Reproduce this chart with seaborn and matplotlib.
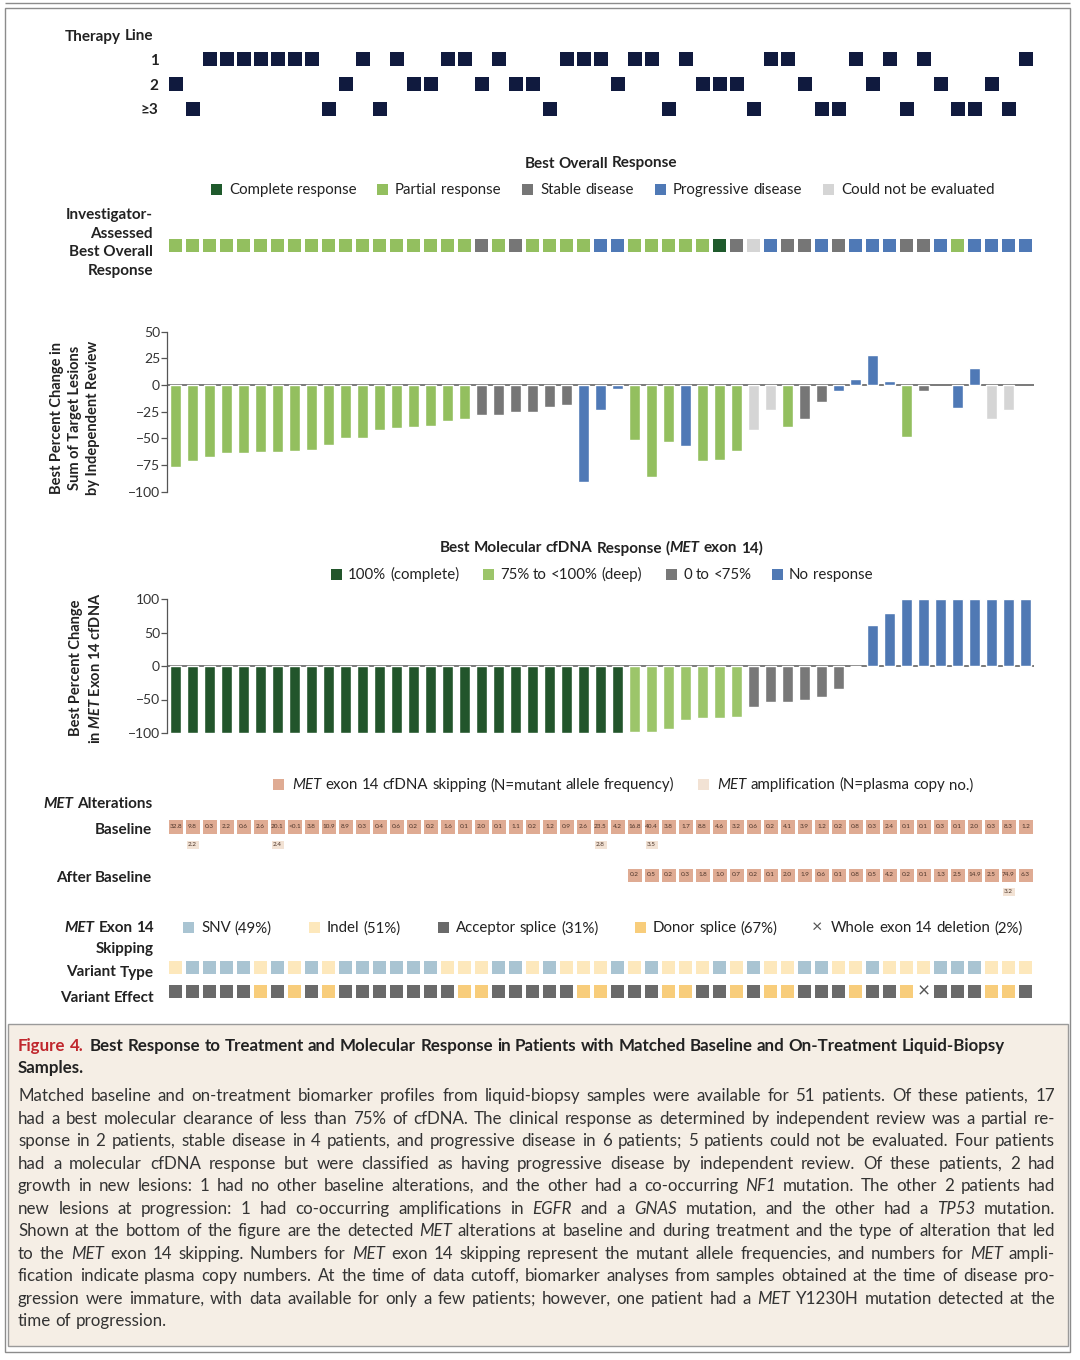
import numpy as np
import pandas as pd
import matplotlib
matplotlib.use("Agg")
import matplotlib.pyplot as plt
import matplotlib.transforms as mtransforms
from matplotlib.colors import ListedColormap
from matplotlib.patches import Rectangle
import seaborn as sns

# --- data (one entry per patient, left to right) ---
n_patients = 51
therapy_line = [2, 3, 1, 1, 1, 1, 1, 1, 1, 3, 2, 1, 3, 1, 2, 2, 1, 1, 2, 1, 2, 2, 3, 1, 1, 1,
                2, 1, 1, 3, 1, 2, 2, 2, 3, 1, 1, 2, 3, 3, 1, 2, 1, 3, 1, 2, 3, 3, 2, 3, 1]
therapy_labels = ["1", "2", "≥3"]

investigator_bor = (["PR"] * 18 + ["SD", "PR", "SD"] + ["PR"] * 4 + ["PD", "PD"] + ["PR"] * 5
                    + ["CR", "SD", "NE", "PD", "SD", "SD", "PD", "SD", "PD", "PD", "PD", "SD", "SD",
                       "PD", "PR", "PD", "PD", "PD", "PD"])

irc_change = [-77, -71, -67, -63.5, -63.5, -63, -62.5, -62, -61, -56,
              -50, -49.5, -42, -40, -39, -38, -33.5, -32, -28.5, -28,
              -25.5, -25.5, -21, -18.5, -90.5, -23.5, -3.5, -51.5, -86, -53.5,
              -57, -71.5, -70.5, -61.5, -42, -23, -39, -32, -16, -5.5,
              6, 28.5, 4, -49, -6, np.nan, -22, 16, -32, -23.5, np.nan]
irc_response = (["PR"] * 18 + ["SD"] * 6 + ["PD"] * 3 + ["PR"] * 3 + ["PD"] + ["PR"] * 3
                + ["NE"] * 2 + ["PR"] + ["SD"] * 2 + ["PD"] * 4 + ["PR"] + ["SD"] + [None]
                + ["PD"] * 2 + ["NE"] * 2 + [None])

cfdna_change = ([-100] * 27 + [-98, -98.5, -94.5, -80.5, -78, -77.5, -76.5]
                + [-61.5, -54, -53.5, -50.5, -47, -35, 0]
                + [61, 78.5, 100, 100, 100, 100, 100, 100, 100, 100])
cfdna_group = ["complete"] * 27 + ["deep"] * 7 + ["partial"] * 7 + ["none"] * 10

baseline_maf = ["32.8", "9.8", "0.3", "2.2", "0.6", "2.6", "20.1", "<0.1", "3.8", "10.9",
                "8.9", "0.3", "0.4", "0.6", "0.2", "0.2", "1.6", "0.1", "2.0", "0.1",
                "1.1", "0.2", "1.2", "0.9", "2.6", "23.5", "4.2", "16.8", "40.4", "3.8",
                "1.7", "8.8", "4.6", "3.2", "0.6", "0.2", "4.1", "3.9", "1.2", "0.2",
                "0.8", "0.3", "2.4", "0.1", "0.1", "0.3", "0.1", "2.0", "0.3", "8.3", "1.2"]
baseline_amp = {1: "2.2", 6: "2.4", 25: "2.8", 28: "3.5"}
after_maf = [""] * 27 + ["0.2", "0.5", "0.2", "0.3", "1.8", "1.0", "0.7", "0.2", "0.1", "2.0",
                         "1.9", "0.6", "0.1", "0.8", "0.5", "4.2", "0.2", "0.1", "1.3", "2.5",
                         "14.9", "2.5", "74.9", "6.3"]
after_amp = {49: "3.2"}

# S = SNV, I = indel
variant_type = ["I", "S", "S", "S", "S", "I", "S", "I", "S", "I", "S", "S", "S", "S", "S", "S",
                "I", "I", "I", "S", "S", "I", "S", "I", "I", "I", "S", "I", "S", "I", "I", "I",
                "S", "I", "S", "I", "I", "S", "S", "I", "I", "S", "I", "I", "I", "S", "S", "S",
                "I", "I", "I"]
# A = acceptor splice, D = donor splice, X = whole exon 14 deletion
variant_effect = ["A", "A", "A", "A", "A", "D", "A", "D", "A", "D", "A", "A", "A", "A", "A", "A",
                  "A", "D", "D", "A", "A", "A", "A", "A", "D", "D", "A", "A", "A", "D", "D", "A",
                  "A", "D", "A", "D", "D", "A", "A", "A", "D", "A", "A", "D", "X", "A", "A", "A",
                  "D", "D", "A"]

resp_colors = {"CR": "#1f5a2c", "PR": "#93bf5f", "SD": "#767676", "PD": "#4f79b6", "NE": "#d5d5d5"}
resp_names = {"CR": "Complete response", "PR": "Partial response", "SD": "Stable disease",
              "PD": "Progressive disease", "NE": "Could not be evaluated"}
cfdna_colors = {"complete": "#22552b", "deep": "#9cc56a", "partial": "#787878", "none": "#5079b4"}
NAVY = "#101a3e"
SKIP = "#dfab93"
AMP = "#f2e2d4"
type_colors = {"S": "#a9c4d2", "I": "#fde8bc"}
effect_colors = {"A": "#6a6a6a", "D": "#f8cd7b"}
TXT = "#222222"

sns.set_theme(style="white")
plt.rcParams["font.family"] = ["Lato", "DejaVu Sans"]
plt.rcParams["mathtext.fontset"] = "custom"
plt.rcParams["mathtext.rm"] = "Lato:bold"
plt.rcParams["mathtext.it"] = "Lato:italic:bold"
plt.rcParams["mathtext.bf"] = "Lato:bold"

W, H = 1080, 1360
fig = plt.figure(figsize=(W / 100, H / 100), dpi=100)
fig.patch.set_facecolor("white")
PIX = mtransforms.Affine2D().scale(1, -1).translate(0, H)
renderer = fig.canvas.get_renderer()


def add_ax(x0, y0, x1, y1):
    return fig.add_axes([x0 / W, 1 - y1 / H, (x1 - x0) / W, (y1 - y0) / H])


def rich(x, y, segs, size=10.8, weight="normal", color=TXT, ha="left", width=None):
    """Draw a line made of (text, style) pieces centred on y; optional full justification."""
    tokens, pending = [], False
    for text, style in segs:
        for k, part in enumerate(text.split(" ")):
            if k > 0:
                pending = True
            if part:
                tokens.append((part, style, pending and bool(tokens)))
                pending = False
    base = y + 0.36 * size * 100 / 72
    objs = []
    for word, style, sp in tokens:
        t = fig.text(0, 0, word, transform=PIX, fontsize=size, fontweight=weight,
                     fontstyle=style, color=color, va="baseline", ha="left")
        objs.append((t, t.get_window_extent(renderer).width, sp))
    a = fig.text(0, 0, "n n", fontsize=size, fontweight=weight)
    b = fig.text(0, 0, "nn", fontsize=size, fontweight=weight)
    gap = a.get_window_extent(renderer).width - b.get_window_extent(renderer).width
    a.remove()
    b.remove()
    n_sp = sum(1 for o in objs if o[2])
    words = sum(o[1] for o in objs)
    if width is not None and n_sp:
        gap = (width - words) / n_sp
    total = words + gap * n_sp
    cx = {"left": x, "center": x - total / 2, "right": x - total}[ha]
    for t, w, sp in objs:
        if sp:
            cx += gap
        t.set_position((cx, base))
        cx += w


def square(x, y, color, size=11):
    fig.add_artist(Rectangle((x - size / 2, y - size / 2), size, size, transform=PIX,
                             facecolor=color, edgecolor="none"))


def strip(y0, y1, codes, colors, lw=1.5, annot=None, fs=4.6):
    ax = add_ax(167, y0, 1034, y1)
    keys = list(colors)
    arr = np.array([[keys.index(c) if c in keys else np.nan for c in codes]], dtype=float)
    kws = {}
    if annot is not None:
        kws = dict(annot=np.array([annot]), fmt="",
                   annot_kws={"fontsize": fs, "color": "#4a3328"})
    sns.heatmap(arr, mask=np.isnan(arr), cmap=ListedColormap(list(colors.values())),
                vmin=-0.5, vmax=len(keys) - 0.5, cbar=False, linewidths=lw,
                linecolor="white", xticklabels=False, yticklabels=False, ax=ax, **kws)
    ax.set_axis_off()
    return ax


# --- frame and caption box ---
fig.add_artist(Rectangle((5, 8), 1065, 1344, transform=PIX, facecolor="none",
                         edgecolor="#8c8c8c", lw=1.0))
fig.add_artist(Rectangle((5, 3), 1065, 0, transform=PIX, facecolor="none",
                         edgecolor="#8c8c8c", lw=1.0))
fig.add_artist(Rectangle((8, 1024), 1060, 322, transform=PIX, facecolor="#f5eee5",
                         edgecolor="#9a9a9a", lw=1.0))

# --- therapy line ---
ax = add_ax(167, 47, 1034, 121)
tl = pd.DataFrame({"patient": range(n_patients), "line": [v - 1 for v in therapy_line]})
sns.scatterplot(data=tl, x="patient", y="line", marker="s", s=116, color=NAVY,
                linewidth=0, ax=ax)
ax.set_xlim(-0.5, n_patients - 0.5)
ax.set_ylim(2.5, -0.5)
ax.set_yticks([0, 1, 2], therapy_labels, fontsize=11, fontweight="bold", color=TXT)
ax.set_xticks([])
ax.set_xlabel("")
ax.set_ylabel("")
ax.tick_params(axis="y", length=0, pad=6)
for s in ax.spines.values():
    s.set_visible(False)
ax.patch.set_alpha(0)
rich(153, 35, [("Therapy Line", "normal")], size=11, weight="bold", ha="right")

# --- best overall response (investigator) ---
rich(601, 162, [("Best Overall Response", "normal")], size=11, weight="bold", ha="center")
for code, sx in zip(["CR", "PR", "SD", "PD", "NE"], [216, 382, 527, 660, 828]):
    square(sx, 189, resp_colors[code])
    rich(sx + 13, 189, [(resp_names[code], "normal")])
strip(236.5, 253.5, investigator_bor, resp_colors)
fig.text(153, 243, "Investigator-\nAssessed\nBest Overall\nResponse", transform=PIX,
         ha="right", va="center", multialignment="right", fontsize=11,
         fontweight="bold", color=TXT, linespacing=1.42)


# --- waterfalls ---
def waterfall(y0, y1, values, groups, palette, ylim, yticks):
    ax = add_ax(167, y0, 1034, y1)
    df = pd.DataFrame({"patient": range(n_patients), "change": values, "group": groups}).dropna()
    sns.barplot(data=df, x="patient", y="change", hue="group", palette=palette,
                order=list(range(n_patients)), dodge=False, width=0.6, saturation=1,
                legend=False, errorbar=None, ax=ax)
    ax.axhline(0, color="#555555", lw=1.1, zorder=0)
    ax.set_ylim(*ylim)
    ax.set_yticks(yticks)
    ax.set_xlim(-0.5, n_patients - 0.5)
    ax.set_xticks([])
    ax.set_xlabel("")
    ax.set_ylabel("")
    for s in ["top", "right", "bottom"]:
        ax.spines[s].set_visible(False)
    ax.spines["left"].set_color("#555555")
    ax.spines["left"].set_linewidth(0.9)
    ax.tick_params(axis="y", left=True, length=4, width=0.9, color="#555555",
                   labelsize=10, labelcolor="#333333", pad=1)
    ax.patch.set_alpha(0)
    return ax


waterfall(331.7, 491.7, irc_change, irc_response, resp_colors, (-100, 50),
          [-100, -75, -50, -25, 0, 25, 50])
fig.text(75, 418, "Best Percent Change in\nSum of Target Lesions\nby Independent Review",
         transform=PIX, rotation=90, ha="center", va="center", multialignment="center",
         fontsize=10.5, fontweight="bold", color=TXT, linespacing=1.35)

rich(601, 547, [("Best Molecular cfDNA Response (", "normal"), ("MET", "italic"),
                (" exon 14)", "normal")], size=11, weight="bold", ha="center")
for key, label, sx in zip(["complete", "deep", "partial", "none"],
                          ["100% (complete)", "75% to <100% (deep)", "0 to <75%", "No response"],
                          [336, 488, 671, 777]):
    square(sx, 574, cfdna_colors[key])
    rich(sx + 12, 574, [(label, "normal")])
waterfall(599, 733, cfdna_change, cfdna_group, cfdna_colors, (-100, 100),
          [-100, -50, 0, 50, 100])
fig.text(86, 668, "Best Percent Change\nin $\\it{MET}$ Exon 14 cfDNA", transform=PIX,
         rotation=90, ha="center", va="center", multialignment="center", fontsize=10.5,
         fontweight="bold", color=TXT, linespacing=1.35)

# --- MET alterations ---
square(278, 784, SKIP)
rich(292, 784, [("MET", "italic"), (" exon 14 cfDNA skipping (N=mutant allele frequency)",
                                     "normal")])
square(703, 784, AMP)
rich(717, 784, [("MET", "italic"), (" amplification (N=plasma copy no.)", "normal")])
rich(152, 803, [("MET", "italic"), (" Alterations", "normal")], size=11, weight="bold",
     ha="right")
rich(152, 829, [("Baseline", "normal")], size=11, weight="bold", ha="right")
rich(152, 876, [("After Baseline", "normal")], size=11, weight="bold", ha="right")

strip(817.5, 835, ["skip" if v else "" for v in baseline_maf], {"skip": SKIP}, lw=0.8,
      annot=baseline_maf)
amp_b = [baseline_amp.get(i, "") for i in range(n_patients)]
strip(838, 850.5, ["amp" if v else "" for v in amp_b], {"amp": AMP}, lw=2.2, annot=amp_b)
strip(866.5, 883, ["skip" if v else "" for v in after_maf], {"skip": SKIP}, lw=0.8,
      annot=after_maf)
amp_a = [after_amp.get(i, "") for i in range(n_patients)]
strip(885, 897.5, ["amp" if v else "" for v in amp_a], {"amp": AMP}, lw=2.2, annot=amp_a)

# --- variant type / effect ---
rich(154, 927, [("MET", "italic"), (" Exon 14", "normal")], size=11, weight="bold", ha="right")
rich(154, 947, [("Skipping", "normal")], size=11, weight="bold", ha="right")
rich(154, 971, [("Variant Type", "normal")], size=11, weight="bold", ha="right")
rich(154, 996, [("Variant Effect", "normal")], size=11, weight="bold", ha="right")
for col, label, sx in zip([type_colors["S"], type_colors["I"], effect_colors["A"],
                           effect_colors["D"]],
                          ["SNV (49%)", "Indel (51%)", "Acceptor splice (31%)",
                           "Donor splice (67%)"], [188, 314, 443, 640]):
    square(sx, 927, col)
    rich(sx + 13, 927, [(label, "normal")])
fig.text(817, 927, "×", transform=PIX, ha="center", va="center", fontsize=13,
         color="#555555")
rich(831, 927, [("Whole exon 14 deletion (2%)", "normal")])

strip(958.5, 975.5, variant_type, type_colors)
ax_eff = strip(982.5, 999.5, variant_effect, effect_colors)
ax_eff.text(variant_effect.index("X") + 0.5, 0.5, "×", ha="center", va="center",
            fontsize=15, color="#555555")

# --- caption ---
rich(18, 1045, [("Figure 4.", "normal")], size=12.2, weight="bold", color="#c0272d")
rich(90, 1045, [("Best Response to Treatment and Molecular Response in Patients with Matched "
                 "Baseline and On-Treatment Liquid-Biopsy", "normal")], size=12.2, weight="bold")
rich(18, 1067, [("Samples.", "normal")], size=12.2, weight="bold")

caption = [
    [("Matched baseline and on-treatment biomarker profiles from liquid-biopsy samples were "
      "available for 51 patients. Of these patients, 17", "normal")],
    [("had a best molecular clearance of less than 75% of cfDNA. The clinical response as "
      "determined by independent review was a partial re-", "normal")],
    [("sponse in 2 patients, stable disease in 4 patients, and progressive disease in 6 "
      "patients; 5 patients could not be evaluated. Four patients", "normal")],
    [("had a molecular cfDNA response but were classified as having progressive disease by "
      "independent review. Of these patients, 2 had", "normal")],
    [("growth in new lesions: 1 had no other baseline alterations, and the other had a "
      "co-occurring ", "normal"), ("NF1", "italic"),
     (" mutation. The other 2 patients had", "normal")],
    [("new lesions at progression: 1 had co-occurring amplifications in ", "normal"),
     ("EGFR", "italic"), (" and a ", "normal"), ("GNAS", "italic"),
     (" mutation, and the other had a ", "normal"), ("TP53", "italic"), (" mutation.", "normal")],
    [("Shown at the bottom of the figure are the detected ", "normal"), ("MET", "italic"),
     (" alterations at baseline and during treatment and the type of alteration that led",
      "normal")],
    [("to the ", "normal"), ("MET", "italic"),
     (" exon 14 skipping. Numbers for ", "normal"), ("MET", "italic"),
     (" exon 14 skipping represent the mutant allele frequencies, and numbers for ", "normal"),
     ("MET", "italic"), (" ampli-", "normal")],
    [("fication indicate plasma copy numbers. At the time of data cutoff, biomarker analyses "
      "from samples obtained at the time of disease pro-", "normal")],
    [("gression were immature, with data available for only a few patients; however, one "
      "patient had a ", "normal"), ("MET", "italic"),
     (" Y1230H mutation detected at the", "normal")],
    [("time of progression.", "normal")],
]
for k, segs in enumerate(caption):
    rich(18, 1095 + 22.5 * k, segs, size=12.2, color="#333333",
         width=1037 if k < len(caption) - 1 else None)

fig.savefig("out.png", dpi=100)
